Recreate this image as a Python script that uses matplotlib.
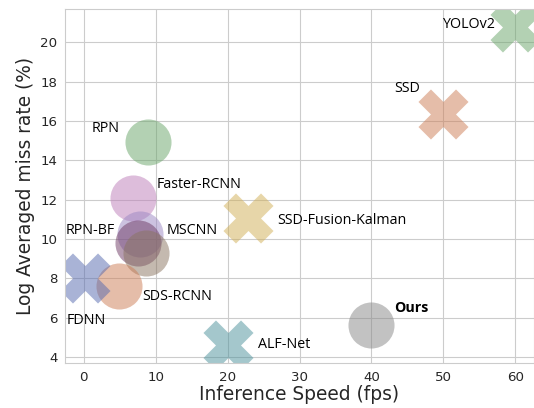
import matplotlib
matplotlib.use("Agg")
import matplotlib.pyplot as plt
import seaborn as sns

# detectors: name, speed (fps), miss rate (%), marker, colour
names = ["RPN", "Faster-RCNN", "RPN-BF", "MSCNN", "MSCNN2", "SDS-RCNN", "Ours",
         "FDNN", "ALF-Net", "SSD-Fusion-Kalman", "SSD", "YOLOv2"]
speed = [9.0, 6.9, 7.8, 7.6, 8.6, 4.9, 40.0, 0.2, 20.0, 22.8, 50.0, 60.0]
miss = [14.95, 12.1, 10.25, 9.8, 9.3, 7.6, 5.65, 8.0, 4.6, 11.05, 16.35, 20.8]
markers = ["o", "o", "o", "o", "o", "o", "o", "X", "X", "X", "X", "X"]
colors = ["#69a569", "#bd7db9", "#9b87c3", "#6e3a64", "#8a7460", "#cd7d55", "#878787",
          "#5569af", "#4b919b", "#d1af55", "#cd7d55", "#69a569"]

# label text, anchor x, anchor y, horizontal alignment
labels = ["RPN", "Faster-RCNN", "RPN-BF", "MSCNN", "SDS-RCNN", "Ours",
          "FDNN", "ALF-Net", "SSD-Fusion-Kalman", "SSD", "YOLOv2"]
lab_x = [5.0, 10.1, 4.4, 11.5, 8.2, 43.2, -2.4, 24.2, 26.9, 46.8, 57.1]
lab_y = [15.6, 12.8, 10.43, 10.43, 7.07, 6.5, 5.85, 4.63, 10.94, 17.66, 20.9]
lab_ha = ["right", "left", "right", "left", "left", "left", "left", "left",
          "left", "right", "right"]

sns.set_style("whitegrid")
plt.rcParams["font.family"] = ["DejaVu Sans"]

fig = plt.figure(figsize=(5.34, 4.08), dpi=100)
ax = fig.add_axes([65 / 534, 1 - 363 / 408, 1 - 65 / 534, (363 - 9) / 408])

for x, y, m, c in zip(speed, miss, markers, colors):
    size = 1100 if m == "o" else 1300
    ax.scatter(x, y, s=size, marker=m, color=c, alpha=0.5, linewidths=0)

for t, x, y, ha in zip(labels, lab_x, lab_y, lab_ha):
    ax.text(x, y, t, ha=ha, va="center", fontsize=10.3, family="Open Sans",
            fontweight="bold" if t == "Ours" else "normal", color="black")

ax.set_xlim(-2.6, 62.6)
ax.set_ylim(3.7, 21.7)
ax.set_xticks([0, 10, 20, 30, 40, 50, 60])
ax.set_yticks([4, 6, 8, 10, 12, 14, 16, 18, 20])
ax.tick_params(labelsize=9.6, colors=".15", pad=2)
ax.set_xlabel("Inference Speed (fps)", fontsize=13.4, color=".15", labelpad=1)
ax.set_ylabel("Log Averaged miss rate (%)", fontsize=13.4, color=".15", labelpad=4)

fig.savefig("out.png", dpi=100)
